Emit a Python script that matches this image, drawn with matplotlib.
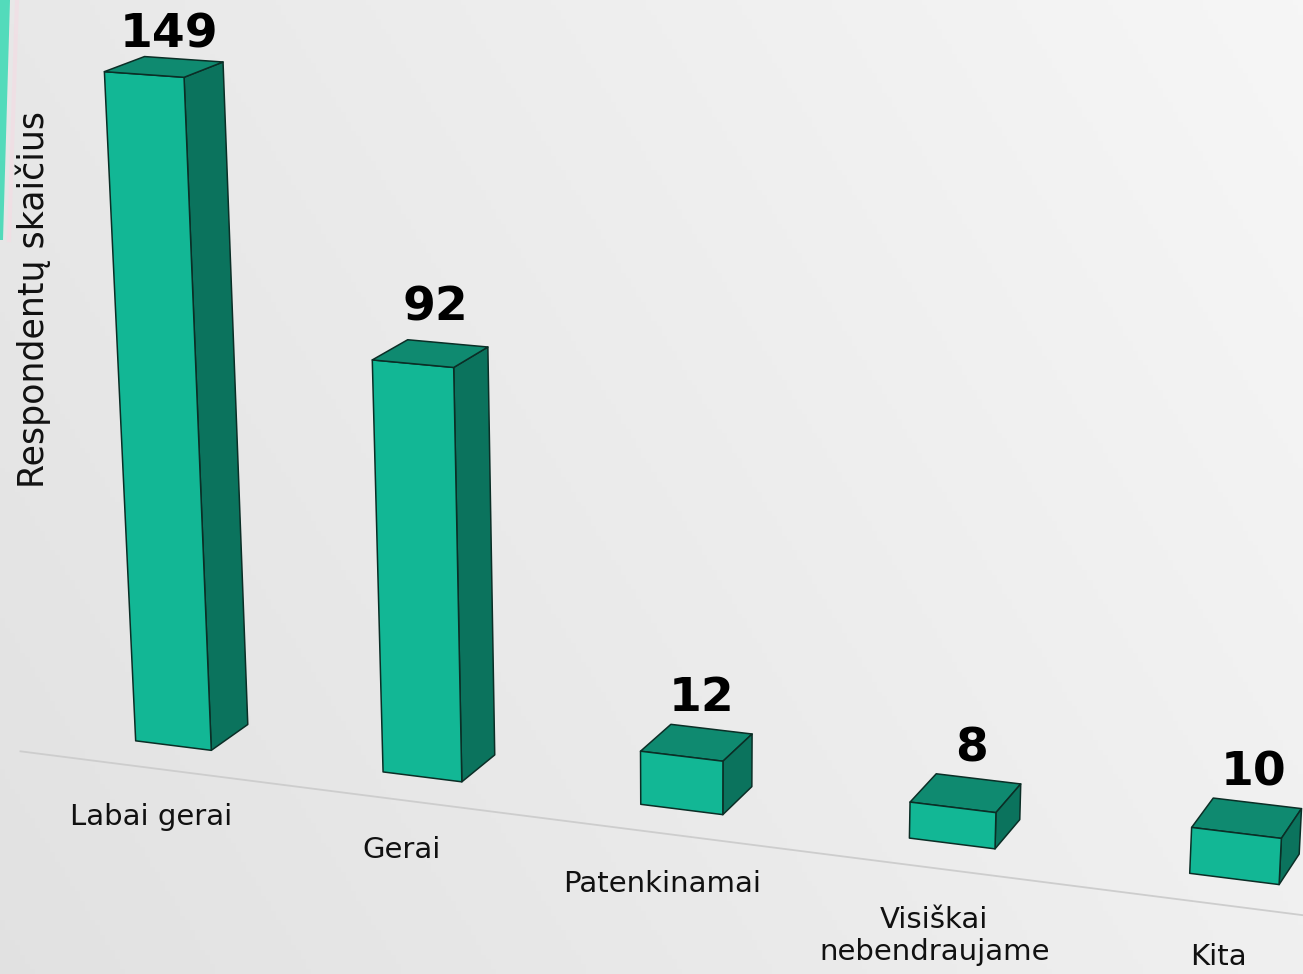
import numpy as np
import matplotlib.pyplot as plt
from mpl_toolkits.mplot3d.art3d import Poly3DCollection

categories = ['Labai gerai', 'Gerai', 'Patenkinamai', 'Visiškai\nnebendraujame', 'Kita']
values = [149, 92, 12, 8, 10]
y_label = 'Respondentų skaičius'

FRONT = '#12b795'
TOP = '#0f8a70'
SIDE = '#0b735d'
EDGE = '#0b2e26'

bar_w = 0.31       # bar width along the category axis
bar_d = 0.31       # bar depth
z_scale = 0.01647  # category units per respondent (keeps the box proportions)

W, H = 1303, 974
fig = plt.figure(figsize=(W / 100, H / 100), dpi=100)

# light grey slide background, brighter towards the upper right
bg = fig.add_axes([0, 0, 1, 1])
yy, xx = np.mgrid[0:1:200j, 0:1:260j]
shade = 0.885 + 0.025 * (1 - yy) + 0.055 * xx
bg.imshow(np.dstack([shade] * 3), extent=[0, W, H, 0], aspect='auto')
# teal slide accent on the left edge
bg.fill([0, 10, 3, 0], [0, 0, 240, 240], color='#2ed8b0', alpha=0.8, lw=0)
bg.plot([17, 9], [0, 240], color='#f3dde4', lw=3, alpha=0.7)
bg.set_xlim(0, W)
bg.set_ylim(H, 0)
bg.axis('off')

# 3d axes; the camera looks at the floor under the middle bar
side = 2008
cx, cy = 669, 823
ax = fig.add_axes([(cx - side / 2) / W, (H - cy - side / 2) / H, side / W, side / H],
                  projection='3d')
ax.set_facecolor('none')
ax.set_proj_type('persp', focal_length=0.40)
ax.view_init(elev=20, azim=-70)

faces, colors = [], []
for i, v in enumerate(values):
    x0, x1 = i - bar_w / 2, i + bar_w / 2
    y0, y1 = 0, bar_d
    faces.append([(x0, y0, 0), (x1, y0, 0), (x1, y0, v), (x0, y0, v)])
    colors.append(FRONT)
    faces.append([(x1, y0, 0), (x1, y1, 0), (x1, y1, v), (x1, y0, v)])
    colors.append(SIDE)
    faces.append([(x0, y0, v), (x1, y0, v), (x1, y1, v), (x0, y1, v)])
    colors.append(TOP)

pc = Poly3DCollection(faces, facecolors=colors, edgecolors=EDGE, linewidths=1.1)
ax.add_collection3d(pc)

# floor line in front of the bars
ax.plot([-0.5, 5.0], [-0.25, -0.25], [0, 0], color='#cdcdcd', lw=1.3)

for i, (cat, v) in enumerate(zip(categories, values)):
    ax.text(i + 0.02, bar_d / 2, min(v + 5, 151), str(v), ha='center', va='bottom',
            fontsize=34, fontweight='bold', color='black')
    ax.text(i, -0.2, -9.5, cat, ha='center', va='top', fontsize=21, color='#111111')

zr = 148
ax.set_xlim(-0.5, 4.5)
ax.set_ylim(-1.0, 1.3)
ax.set_zlim(-zr, zr)
ax.set_box_aspect((5, 2.3, 300 * z_scale))
ax.set_xticks([])
ax.set_yticks([])
ax.set_zticks([])
ax.set_axis_off()

fig.text(33 / W, 1 - 300 / H, y_label, rotation=90, ha='center', va='center',
         fontsize=25, color='#111111')

fig.savefig('out.png', dpi=100)
